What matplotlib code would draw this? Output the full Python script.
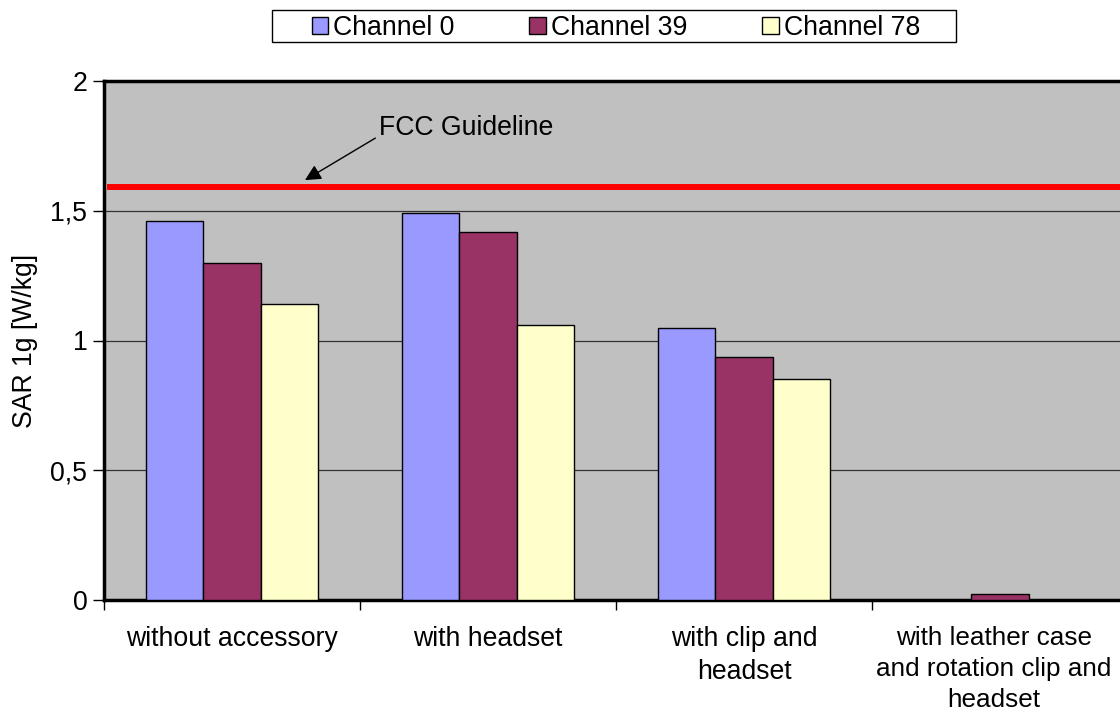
import matplotlib.pyplot as plt
from matplotlib.patches import Rectangle
from matplotlib.transforms import ScaledTranslation
import numpy as np

plt.rcParams['font.family'] = ['Liberation Sans', 'DejaVu Sans']

categories = ["without accessory", "with headset", "with clip and\nheadset",
              "with leather case\nand rotation clip and\nheadset"]
channel_0 = [1.46, 1.49, 1.05, 0.0]
channel_39 = [1.30, 1.42, 0.935, 0.023]
channel_78 = [1.14, 1.06, 0.85, 0.0]
series_names = ["Channel 0", "Channel 39", "Channel 78"]
colors = ["#9999FF", "#993366", "#FFFFCC"]
fcc_limit = 1.59
y_ticks = [0, 0.5, 1, 1.5, 2]
y_tick_labels = ["0", "0,5", "1", "1,5", "2"]

fs = 19.2

fig = plt.figure(figsize=(11.2, 7.16), dpi=100)
ax = fig.add_axes([104 / 1120, 116 / 716, 1024 / 1120, 519 / 716])
ax.set_facecolor("#C0C0C0")

x = np.arange(len(categories))
w = 0.223
handles = []
for i, (vals, name, c) in enumerate(zip([channel_0, channel_39, channel_78], series_names, colors)):
    h = ax.bar(x + (i - 1) * w, vals, w, color=c, edgecolor="black", linewidth=1, label=name, zorder=3)
    handles.append(h)

# gridlines
for yv in y_ticks[1:-1]:
    ax.axhline(yv, color="#333333", linewidth=0.9, zorder=1)

# FCC guideline
ax.axhline(fcc_limit, xmin=0.006, xmax=1, color="#FF0000", linewidth=4.3, zorder=4)
ax.annotate("", xy=(0.285, 1.618), xytext=(0.56, 1.78),
            arrowprops=dict(arrowstyle="-|>", color="black", lw=1, mutation_scale=24,
                            shrinkA=0, shrinkB=0),
            zorder=5)
ax.text(0.575, 1.82, "FCC Guideline", fontsize=fs, va="center", ha="left", zorder=5)

ax.set_xlim(-0.5, len(categories) - 0.5)
ax.set_ylim(0, 2)
ax.set_yticks(y_ticks)
ax.set_yticklabels(y_tick_labels, fontsize=fs)
ax.tick_params(axis="y", length=8, width=1, pad=4)

ax.set_xticks(x)
ax.set_xticklabels(categories, fontsize=fs, linespacing=1.35, va="top")
ax.tick_params(axis="x", which="major", length=0, pad=19)
ax.set_xticks(np.arange(-0.5, len(categories), 1), minor=True)
ax.tick_params(axis="x", which="minor", length=7, width=1)

# keep the last label inside the figure edge
last = ax.get_xticklabels()[-1]
last.set_fontsize(18.8)
last.set_transform(last.get_transform() + ScaledTranslation(-6 / 100, 0, fig.dpi_scale_trans))

for side in ["left", "bottom", "top"]:
    ax.spines[side].set_linewidth(2.5)
ax.spines["right"].set_visible(False)

ax.set_ylabel("SAR 1g [W/kg]", fontsize=fs, labelpad=9)

# legend box drawn separately to get the wide side padding
fig.patches.append(Rectangle((272 / 1120, 1 - 42 / 716), 684 / 1120, 32 / 716,
                             transform=fig.transFigure, facecolor="white",
                             edgecolor="black", linewidth=1))
leg = fig.legend(handles=handles, labels=series_names, loc="center",
                 bbox_to_anchor=(616 / 1120, 1 - 28 / 716), ncol=3, fontsize=fs,
                 frameon=False, borderpad=0.1,
                 handlelength=0.62, handleheight=0.62, handletextpad=0.2, columnspacing=2.8)

fig.savefig("out.png", dpi=100)
